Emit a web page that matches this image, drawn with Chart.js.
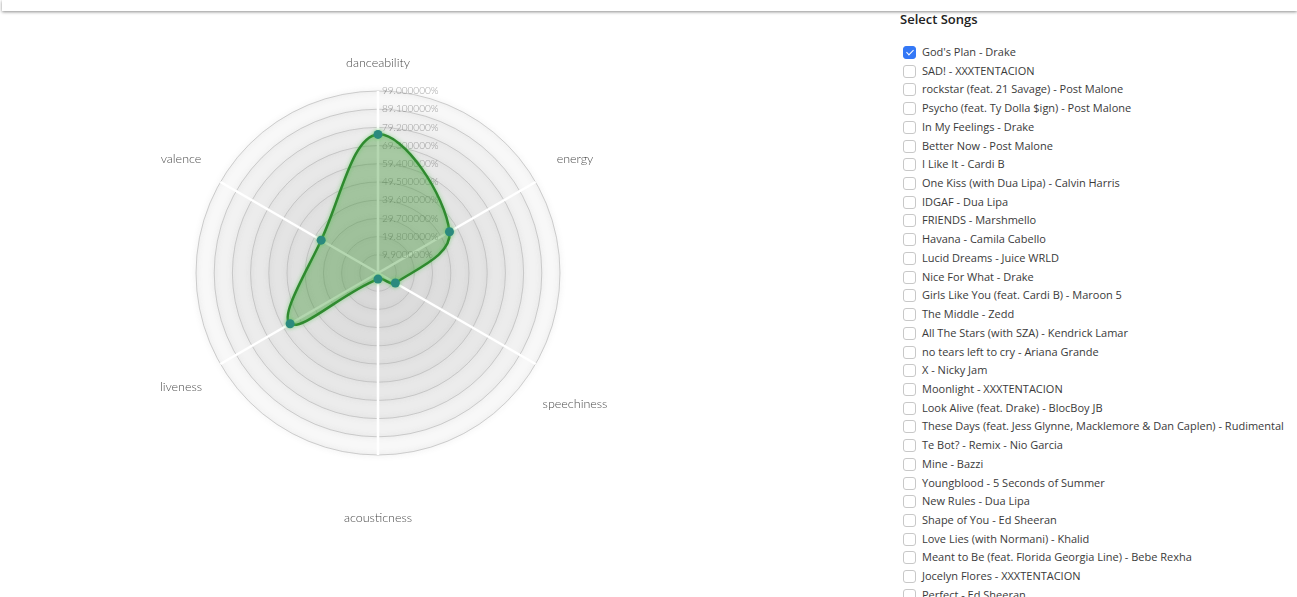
<!DOCTYPE html>
<html>
<head>
<meta charset="utf-8">
<script src="https://cdn.jsdelivr.net/npm/chart.js@4/dist/chart.umd.min.js"></script>
<style>
  html, body { margin: 0; padding: 0; background: #fff; overflow: hidden; }
  body { width: 1297px; height: 597px; position: relative; font-family: "Open Sans", sans-serif; }
  .topbar { position: absolute; left: 2px; right: 0; top: 0; height: 11px; background: #fff;
            box-shadow: 0 1px 3px rgba(0, 0, 0, 0.45); }
  .chart-wrap { position: absolute; left: 0; top: 21px; width: 756px; height: 506px; }
  .songs { position: absolute; left: 900px; top: 10px; }
  .songs h4 { margin: 0; font-size: 13px; font-weight: 600; color: #222; line-height: 18px; }
  .songs ul { list-style: none; margin: 15px 0 0 0; padding: 0; }
  .songs li { height: 18.72px; line-height: 18.72px; font-size: 11px; color: #3a3a3a; white-space: nowrap; }
  .songs input { appearance: none; -webkit-appearance: none; box-sizing: border-box; width: 13px; height: 13px;
                 margin: 0 6px 0 3px; border: 1px solid #c8c8c8; border-radius: 3px; vertical-align: -3px;
                 position: relative; background: #fff; }
  .songs input:checked { background: #3478f6; border-color: #3478f6; }
  .songs input:checked::after { content: ""; position: absolute; left: 3.5px; top: 1px; width: 3px; height: 6px;
                 border: solid #fff; border-width: 0 1.6px 1.6px 0; transform: rotate(45deg); }
</style>
</head>
<body>
<div class="topbar"></div>
<div class="chart-wrap"><canvas id="radarChart"></canvas></div>
<div class="songs">
  <h4>Select Songs</h4>
  <ul id="songList"></ul>
</div>
<script>
// audio features shown on the radar
const features = ['danceability', 'energy', 'speechiness', 'acousticness', 'liveness', 'valence'];
// God's Plan - Drake, in percent
const godsPlan = [75.4, 44.9, 10.9, 3.3, 55.2, 35.7];
// radial scale ticks
const tickStep = 9.9;
const tickMax = 99;

const songs = [
    "God's Plan - Drake",
    'SAD! - XXXTENTACION',
    'rockstar (feat. 21 Savage) - Post Malone',
    'Psycho (feat. Ty Dolla $ign) - Post Malone',
    'In My Feelings - Drake',
    'Better Now - Post Malone',
    'I Like It - Cardi B',
    'One Kiss (with Dua Lipa) - Calvin Harris',
    'IDGAF - Dua Lipa',
    'FRIENDS - Marshmello',
    'Havana - Camila Cabello',
    'Lucid Dreams - Juice WRLD',
    'Nice For What - Drake',
    'Girls Like You (feat. Cardi B) - Maroon 5',
    'The Middle - Zedd',
    'All The Stars (with SZA) - Kendrick Lamar',
    'no tears left to cry - Ariana Grande',
    'X - Nicky Jam',
    'Moonlight - XXXTENTACION',
    'Look Alive (feat. Drake) - BlocBoy JB',
    'These Days (feat. Jess Glynne, Macklemore & Dan Caplen) - Rudimental',
    'Te Bot? - Remix - Nio Garcia',
    'Mine - Bazzi',
    'Youngblood - 5 Seconds of Summer',
    'New Rules - Dua Lipa',
    'Shape of You - Ed Sheeran',
    'Love Lies (with Normani) - Khalid',
    'Meant to Be (feat. Florida Georgia Line) - Bebe Rexha',
    'Jocelyn Flores - XXXTENTACION',
    'Perfect - Ed Sheeran'
];
const selected = ["God's Plan - Drake"];

// build song checkbox list
const list = document.getElementById('songList');
songs.forEach(name => {
    const li = document.createElement('li');
    const box = document.createElement('input');
    box.type = 'checkbox';
    box.checked = selected.includes(name);
    li.appendChild(box);
    li.appendChild(document.createTextNode(name));
    list.appendChild(li);
});

// shaded, slightly glowing rings behind the grid
const ringBackground = {
    id: 'ringBackground',
    beforeDraw(chart) {
        const scale = chart.scales.r;
        const ctx = chart.ctx;
        ctx.save();
        scale.ticks.slice().reverse().forEach(t => {
            if (t.value <= 0) return;
            const r = scale.getDistanceFromCenterForValue(t.value);
            ctx.beginPath();
            ctx.arc(scale.xCenter, scale.yCenter, r, 0, Math.PI * 2);
            ctx.fillStyle = 'rgba(200, 200, 200, 0.13)';
            ctx.fill();
            ctx.shadowColor = 'rgba(150, 150, 150, 0.7)';
            ctx.shadowBlur = 5;
            ctx.strokeStyle = 'rgba(205, 205, 205, 0.6)';
            ctx.lineWidth = 1;
            ctx.stroke();
            ctx.shadowColor = 'transparent';
        });
        ctx.restore();
    }
};

// tick labels drawn to the right of the vertical axis
const tickLabels = {
    id: 'tickLabels',
    beforeDatasetsDraw(chart) {
        const scale = chart.scales.r;
        const ctx = chart.ctx;
        ctx.save();
        ctx.font = '300 10px Lato, sans-serif';
        ctx.fillStyle = 'rgba(90, 90, 90, 0.6)';
        ctx.textAlign = 'left';
        ctx.textBaseline = 'middle';
        scale.ticks.forEach(t => {
            if (t.value <= 0) return;
            const r = scale.getDistanceFromCenterForValue(t.value);
            ctx.fillText(t.label, scale.xCenter + 4, scale.yCenter - r);
        });
        ctx.restore();
    }
};

// axis names at 1.25 x radius; names wider than 60px drop one line
const axisNames = {
    id: 'axisNames',
    afterDraw(chart) {
        const scale = chart.scales.r;
        const ctx = chart.ctx;
        const size = 12.5;
        ctx.save();
        ctx.font = '300 ' + size + 'px Lato, sans-serif';
        ctx.fillStyle = '#4a4a4a';
        ctx.textAlign = 'center';
        ctx.textBaseline = 'middle';
        features.forEach((name, i) => {
            const p = scale.getPointPosition(i, scale.drawingArea * 1.25);
            const drop = ctx.measureText(name).width > 60 ? size * 1.4 : 0;
            ctx.fillText(name, p.x, p.y + drop);
        });
        ctx.restore();
    }
};

// soft glow on the line
const lineGlow = {
    id: 'lineGlow',
    beforeDatasetDraw(chart) {
        chart.ctx.save();
        chart.ctx.shadowColor = 'rgba(90, 200, 90, 0.7)';
        chart.ctx.shadowBlur = 4;
    },
    afterDatasetDraw(chart) {
        chart.ctx.restore();
    }
};

new Chart(document.getElementById('radarChart'), {
    type: 'radar',
    data: {
        labels: features,
        datasets: [{
            label: "God's Plan - Drake",
            data: godsPlan,
            borderColor: '#2f8a2f',
            borderWidth: 2.5,
            backgroundColor: 'rgba(60, 150, 50, 0.38)',
            fill: true,
            tension: 0.4,
            pointRadius: 4.5,
            pointBackgroundColor: '#2b8a7e',
            pointBorderColor: '#2b8a7e',
            pointBorderWidth: 0
        }]
    },
    options: {
        responsive: true,
        maintainAspectRatio: false,
        animation: false,
        layout: { padding: { top: 70, bottom: 71, left: 0, right: 0 } },
        plugins: {
            legend: { display: false },
            tooltip: { enabled: false }
        },
        scales: {
            r: {
                min: 0,
                max: tickMax,
                ticks: {
                    stepSize: tickStep,
                    display: false,
                    callback: v => v.toFixed(6) + '%'
                },
                grid: {
                    circular: true,
                    color: 'rgba(0, 0, 0, 0.08)',
                    lineWidth: 1
                },
                angleLines: {
                    color: '#ffffff',
                    lineWidth: 2.5
                },
                pointLabels: { display: false }
            }
        }
    },
    plugins: [ringBackground, tickLabels, axisNames, lineGlow]
});
</script>
</body>
</html>
